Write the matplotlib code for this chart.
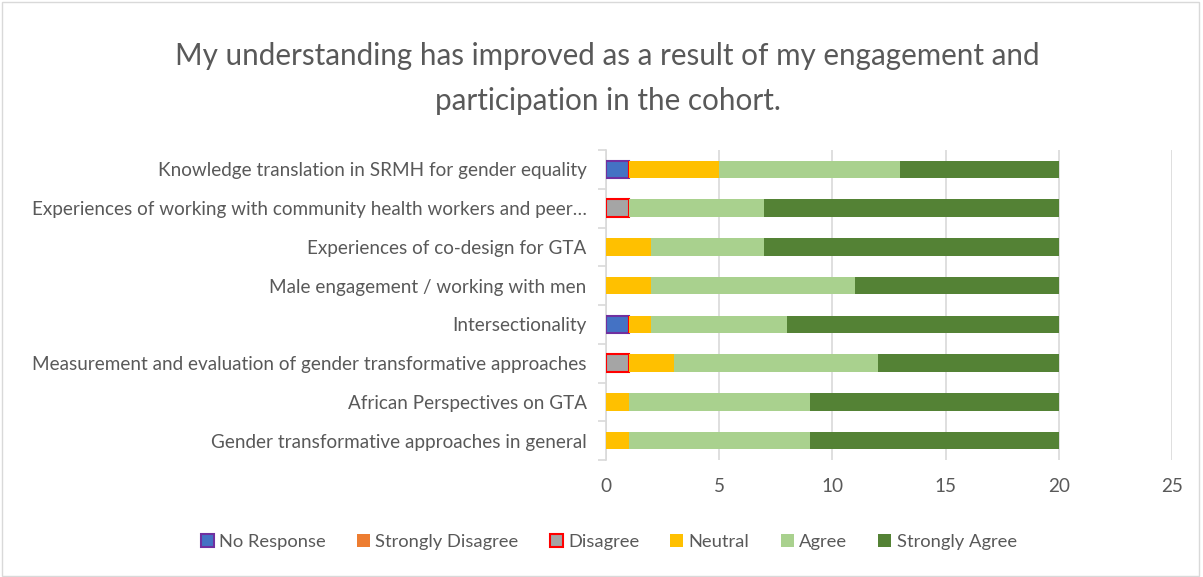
import matplotlib
matplotlib.use("Agg")
import matplotlib.pyplot as plt
from matplotlib.patches import Patch, Rectangle
import numpy as np

plt.rcParams["font.family"] = ["Lato", "DejaVu Sans"]

# Data: first item = top row
topics = [
    "Knowledge translation in SRMH for gender equality",
    "Experiences of working with community health workers and peer…",
    "Experiences of co-design for GTA",
    "Male engagement / working with men",
    "Intersectionality",
    "Measurement and evaluation of gender transformative approaches",
    "African Perspectives on GTA",
    "Gender transformative approaches in general",
]
no_response       = [1, 0, 0, 0, 1, 0, 0, 0]
strongly_disagree = [0, 0, 0, 0, 0, 0, 0, 0]
disagree          = [0, 1, 0, 0, 0, 1, 0, 0]
neutral           = [4, 0, 2, 2, 1, 2, 1, 1]
agree             = [8, 6, 5, 9, 6, 9, 8, 8]
strongly_agree    = [7, 13, 13, 9, 12, 8, 11, 11]

series = [
    ("No Response", no_response, "#4472C4", "#7030A0"),
    ("Strongly Disagree", strongly_disagree, "#ED7D31", None),
    ("Disagree", disagree, "#A5A5A5", "#FF0000"),
    ("Neutral", neutral, "#FFC000", None),
    ("Agree", agree, "#A9D18E", None),
    ("Strongly Agree", strongly_agree, "#548235", None),
]

fig = plt.figure(figsize=(12.03, 5.77), dpi=100)
ax = fig.add_axes([606 / 1203, 1 - 460 / 577, 566 / 1203, 310 / 577])

y = np.arange(len(topics))[::-1]
left = np.zeros(len(topics))
for name, vals, color, edge in series:
    vals = np.array(vals, dtype=float)
    if edge:
        ax.barh(y, vals, left=left, height=0.45, color=color,
                edgecolor=edge, linewidth=1.5, zorder=3)
    else:
        ax.barh(y, vals, left=left, height=0.45, color=color,
                linewidth=0, zorder=3)
    left += vals

ax.set_xlim(0, 25)
ax.set_ylim(-0.5, len(topics) - 0.5)
ax.set_xticks([0, 5, 10, 15, 20, 25])
ax.set_yticks(y)
ax.set_yticklabels(topics)
ax.set_yticks(np.arange(-0.5, len(topics), 1.0), minor=True)
ax.tick_params(axis="y", which="major", length=0, pad=14, labelsize=13.6,
               labelcolor="#595959")
ax.tick_params(axis="y", which="minor", length=6, color="#D9D9D9", width=1.2)
ax.tick_params(axis="x", length=0, pad=13, labelsize=13.6, labelcolor="#595959")
ax.xaxis.grid(True, color="#D9D9D9", linewidth=1.2, zorder=0)
ax.set_axisbelow(True)
for s in ["top", "right", "bottom"]:
    ax.spines[s].set_visible(False)
ax.spines["left"].set_color("#D9D9D9")
ax.spines["left"].set_linewidth(1.2)

fig.text(0.505, 1 - 56 / 577, "My understanding has improved as a result of my engagement and",
         ha="center", va="center", fontsize=21.3, color="#595959")
fig.text(0.505, 1 - 101 / 577, "participation in the cohort.",
         ha="center", va="center", fontsize=21.3, color="#595959")

handles = []
for name, vals, color, edge in series:
    if edge:
        handles.append(Patch(facecolor=color, edgecolor=edge, linewidth=1.5, label=name))
    else:
        handles.append(Patch(facecolor=color, edgecolor="none", label=name))
fig.legend(handles=handles, loc="center", bbox_to_anchor=(0.506, 1 - 542 / 577),
           ncol=6, frameon=False, fontsize=13.2, handlelength=0.7, handleheight=0.7,
           handletextpad=0.3, columnspacing=1.7, labelcolor="#595959")

fig.patches.append(Rectangle((0.002, 0.002), 0.995, 0.995, transform=fig.transFigure,
                             fill=False, edgecolor="#D9D9D9", linewidth=1))

fig.savefig("out.png", dpi=100)
